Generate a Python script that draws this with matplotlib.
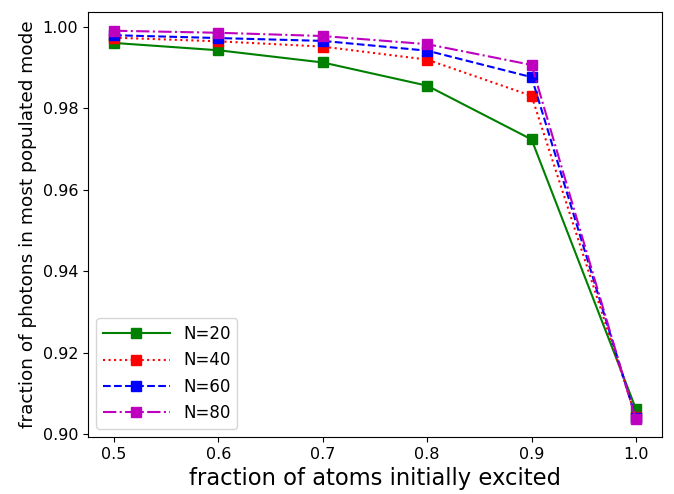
import matplotlib
matplotlib.use("Agg")
import matplotlib.pyplot as plt

x = [0.5, 0.6, 0.7, 0.8, 0.9, 1.0]
n20 = [0.9961, 0.9943, 0.9913, 0.9856, 0.9724, 0.9062]
n40 = [0.9974, 0.9965, 0.9952, 0.9920, 0.9831, 0.9042]
n60 = [0.9980, 0.9973, 0.9966, 0.9942, 0.9877, 0.9040]
n80 = [0.9991, 0.9986, 0.9978, 0.9958, 0.9907, 0.9036]
labels = ["N=20", "N=40", "N=60", "N=80"]

fig = plt.figure(figsize=(6.74, 4.94), dpi=100)
ax = fig.add_axes([88/674, 1-437/494, (662-88)/674, (437-12)/494])
ax.plot(x, n20, color="g", ls="-", marker="s", ms=7, lw=1.5, label=labels[0])
ax.plot(x, n40, color="r", ls=":", marker="s", ms=7, lw=1.5, label=labels[1])
ax.plot(x, n60, color="b", ls="--", marker="s", ms=7, lw=1.5, label=labels[2])
ax.plot(x, n80, color="m", ls="-.", marker="s", ms=7, lw=1.5, label=labels[3])
ax.set_ylim(0.8993, 1.0037)
ax.set_xticks([0.5, 0.6, 0.7, 0.8, 0.9, 1.0])
ax.set_yticks([0.90, 0.92, 0.94, 0.96, 0.98, 1.00])
ax.tick_params(labelsize=11.5)
ax.set_xlabel("fraction of atoms initially excited", fontsize=16.3)
ax.set_ylabel("fraction of photons in most populated mode", fontsize=13.3)
ax.legend(loc="lower left", fontsize=12, handlelength=4)
fig.savefig("out.png", dpi=100)
